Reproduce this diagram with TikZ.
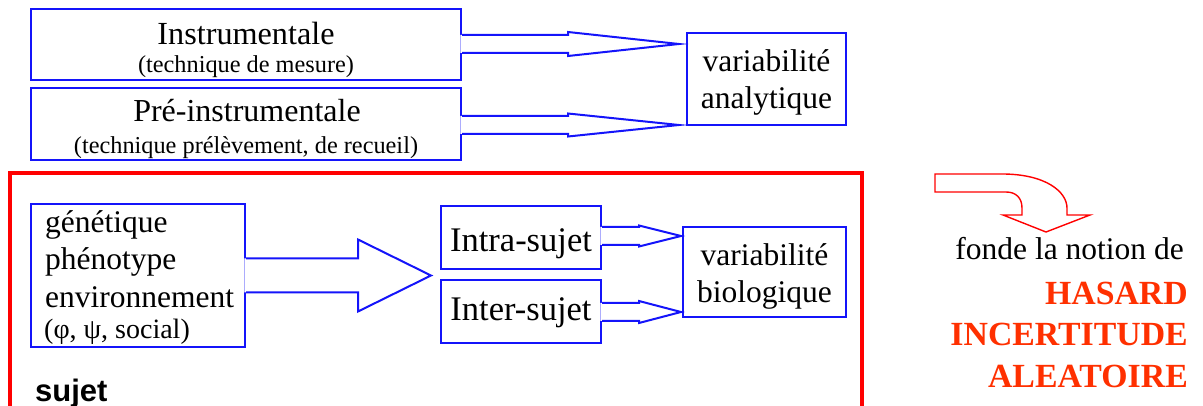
\documentclass[tikz,border=0pt]{standalone}
\usepackage{fontspec}
\setmainfont{Liberation Serif}
\newfontfamily\headsans{Liberation Sans}
\usetikzlibrary{calc}

\definecolor{lineblue}{RGB}{20,20,250}
\definecolor{framered}{RGB}{255,0,0}
\definecolor{notionred}{RGB}{255,48,0}

% block arrow leaving the right side of node #1 and ending at coordinate #2;
% #3 = length of the head, #4 = half width of the shaft, #5 = half width of the head
\newcommand\blockarrow[5]{%
  \fill[white] let \p1=(#1.east), \p2=(#2) in
    (\x1-1.6pt,\y2+#4pt) -- (\x2-#3pt,\y2+#4pt) -- (\x2-#3pt,\y2+#5pt) -- (\p2)
    -- (\x2-#3pt,\y2-#5pt) -- (\x2-#3pt,\y2-#4pt) -- (\x1-1.6pt,\y2-#4pt) -- cycle;
  \draw[blk] let \p1=(#1.east), \p2=(#2) in
    (\x1,\y2+#4pt) -- (\x2-#3pt,\y2+#4pt) -- (\x2-#3pt,\y2+#5pt) -- (\p2)
    -- (\x2-#3pt,\y2-#5pt) -- (\x2-#3pt,\y2-#4pt) -- (\x1,\y2-#4pt);}

\begin{document}
\begin{tikzpicture}[x=1pt,y=-1pt,
  box/.style={draw=lineblue,line width=2pt,inner sep=0pt,fill=white},
  blk/.style={draw=lineblue,line width=2pt,line join=miter},
  big/.style={inner sep=0pt,anchor=base,font=\fontsize{31.5}{38}\selectfont},
  small/.style={inner sep=0pt,anchor=base,font=\fontsize{24.3}{29}\selectfont},
  notion/.style={inner sep=0pt,anchor=base east,text=notionred,font=\bfseries\fontsize{33.8}{40}\selectfont}]
\useasboundingbox (0,0) rectangle (1203,406);

% analytical variability
\node[box,minimum width=430pt,minimum height=71pt] (instr) at (246,44.5) {};
\node[box,minimum width=430pt,minimum height=72pt] (preinstr) at (246,124) {};
\node[box,minimum width=159pt,minimum height=92pt] (vana) at (766.5,79) {};

\node[big,font=\fontsize{32.2}{38}\selectfont] (instrT) at (246,45) {Instrumentale};
\node[small] (instrS) at (246,73) {(technique de mesure)};
\node[big,font=\fontsize{32}{38}\selectfont] (preT) at (247,122) {Pré-instrumentale};
\node[small] (preS) at (246,154) {(technique prélèvement, de recueil)};
\node[big] (vanaA) at (766.5,72) {variabilité};
\node[big] (vanaB) at (766.5,109) {analytique};

\coordinate (tipA) at ($(vana.north west)+(-7,12)$);
\coordinate (tipB) at ($(vana.south west)+(-7,-1)$);
\blockarrow{instr}{tipA}{111}{9}{12}
\blockarrow{preinstr}{tipB}{111}{9}{11.5}

% the subject frame
\draw[framered,line width=3.4pt] (10,420) -- (10,173) -- (862,173) -- (862,420);
\node[inner sep=0pt,anchor=base west,font=\headsans\bfseries\fontsize{31}{37}\selectfont] (sujet) at (35,401) {sujet};

% biological variability
\node[box,minimum width=214pt,minimum height=143pt] (facteurs) at (138,275.5) {};
\node[box,minimum width=160pt,minimum height=63pt] (intra) at (521,237.5) {};
\node[box,minimum width=160pt,minimum height=63pt] (inter) at (521,311.5) {};
\node[box,minimum width=163pt,minimum height=90pt] (vbio) at (764.5,272) {};

\node[big,anchor=base west] (fa) at (45,233) {génétique};
\node[big,anchor=base west] (fb) at (45,270) {phénotype};
\node[big,anchor=base west] (fc) at (45,308) {environnement};
\node[small,anchor=base west,font=\fontsize{28}{33}\selectfont] (fd) at (44,338) {(φ, ψ, social)};
\node[big,font=\fontsize{34.5}{40}\selectfont] (intraT) at (521,252) {Intra-sujet};
\node[big,font=\fontsize{34.5}{40}\selectfont] (interT) at (521,320) {Inter-sujet};
\node[big] (vbioA) at (764.5,266) {variabilité};
\node[big] (vbioB) at (764.5,302) {biologique};

\coordinate (tipF) at ($(intra.south west)!0.5!(inter.north west)+(-9,1)$);
\coordinate (tipI) at ($(vbio.north west)+(-1,10)$);
\coordinate (tipE) at ($(vbio.south west)+(-1,-6)$);
\blockarrow{facteurs}{tipF}{73}{17}{36}
\blockarrow{intra}{tipI}{42}{9}{10.5}
\blockarrow{inter}{tipE}{42}{9}{11}

% curved arrow towards the conclusion
\draw[framered,line width=1.4pt,line join=miter,fill=white]
  (935,174) -- (1002,174) .. controls (1046,174) and (1067,192) .. (1067,208)
  -- (1067,215) -- (1090,215) -- (1046,232) -- (1003,215) -- (1022,215)
  -- (1022,208) .. controls (1022,198) and (1016,192) .. (1006,192)
  -- (935,192) -- cycle;

\node[big,anchor=base east,font=\fontsize{31.5}{38}\selectfont] (fonde) at (1184,260) {fonde la notion de};
\node[notion] (hasard) at (1188,305) {HASARD};
\node[notion] (incert) at (1188,345) {INCERTITUDE};
\node[notion] (alea) at (1188,387) {ALEATOIRE};
\end{tikzpicture}
\end{document}
